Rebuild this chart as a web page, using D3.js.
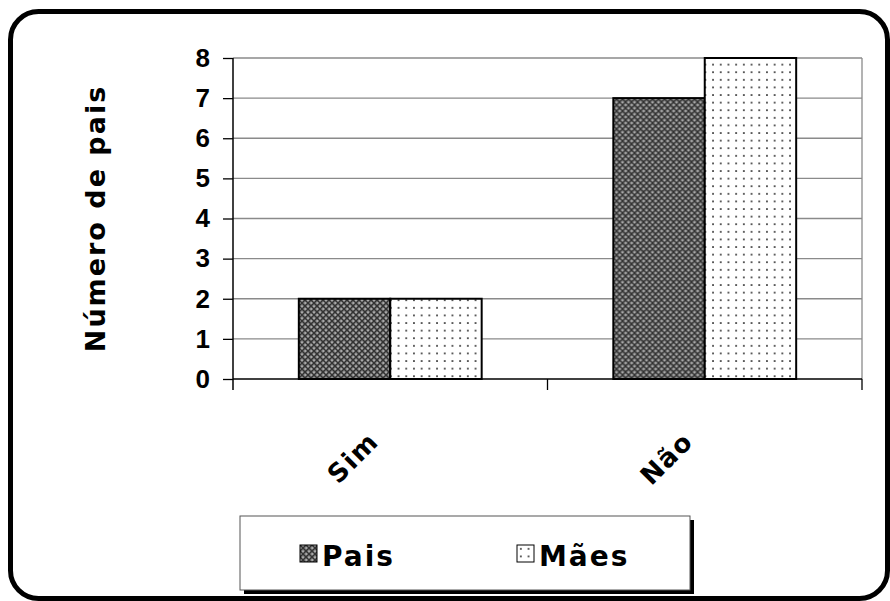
<!DOCTYPE html>
<html>
<head>
<meta charset="utf-8">
<script src="https://cdn.jsdelivr.net/npm/d3@7"></script>
<style>
  html, body { margin: 0; padding: 0; background: #fff; }
  svg { display: block; }
</style>
</head>
<body>
<script>
// Respostas por categoria
const categories = ["Sim", "Não"];
const seriesNames = ["Pais", "Mães"];
const paisValues = [2, 7];
const maesValues = [2, 8];
const yTicks = [0, 1, 2, 3, 4, 5, 6, 7, 8];
const yTitle = "Número de pais";

const W = 890, H = 601;
const plot = { left: 233, top: 58, right: 862, bottom: 379 };
const comic = "'Comic Sans MS', 'DejaVu Sans', sans-serif";

const svg = d3.select("body").append("svg")
  .attr("width", W).attr("height", H);

// Fill patterns
const defs = svg.append("defs");
const pHatch = defs.append("pattern").attr("id", "pat-pais")
  .attr("patternUnits", "userSpaceOnUse").attr("width", 6).attr("height", 6);
pHatch.append("rect").attr("width", 6).attr("height", 6).attr("fill", "#5c5c5c");
pHatch.append("path").attr("d", "M0,0 L6,6 M6,0 L0,6")
  .attr("stroke", "#333").attr("stroke-width", 1);
pHatch.append("rect").attr("x", 2.3).attr("y", -0.2).attr("width", 1.4).attr("height", 1.4).attr("fill", "#c8c8c8");
pHatch.append("rect").attr("x", -0.2).attr("y", 2.3).attr("width", 1.4).attr("height", 1.4).attr("fill", "#c8c8c8");
pHatch.append("rect").attr("x", 5.3).attr("y", 2.3).attr("width", 1.4).attr("height", 1.4).attr("fill", "#c8c8c8");
pHatch.append("rect").attr("x", 2.3).attr("y", 5.3).attr("width", 1.4).attr("height", 1.4).attr("fill", "#c8c8c8");

const pDots = defs.append("pattern").attr("id", "pat-maes")
  .attr("patternUnits", "userSpaceOnUse").attr("width", 7.7).attr("height", 7.6);
pDots.append("rect").attr("width", 7.7).attr("height", 7.6).attr("fill", "#fff");
pDots.append("rect").attr("x", 3).attr("y", 3).attr("width", 1.7).attr("height", 1.7).attr("fill", "#333");

const fills = ["url(#pat-pais)", "url(#pat-maes)"];

// Outer rounded frame
svg.append("rect")
  .attr("x", 10.5).attr("y", 11.5).attr("width", 877).attr("height", 587)
  .attr("rx", 28).attr("ry", 28)
  .attr("fill", "#fff").attr("stroke", "#000").attr("stroke-width", 5);

// Scales
const x0 = d3.scaleBand().domain(categories).range([plot.left, plot.right]).paddingInner(0).paddingOuter(0);
const x1 = d3.scaleBand().domain(seriesNames).range([0, x0.bandwidth()]).paddingOuter(0.72).paddingInner(0);
const y = d3.scaleLinear().domain([0, 8]).range([plot.bottom, plot.top]);

// Gridlines
svg.append("g").selectAll("line").data(yTicks.filter(d => d > 0)).join("line")
  .attr("x1", plot.left).attr("x2", plot.right)
  .attr("y1", d => y(d)).attr("y2", d => y(d))
  .attr("stroke", "#8a8a8a").attr("stroke-width", 1.3);

// Plot area right border
svg.append("line")
  .attr("x1", plot.right).attr("x2", plot.right)
  .attr("y1", plot.top).attr("y2", plot.bottom)
  .attr("stroke", "#8a8a8a").attr("stroke-width", 1.3);

// Bars
const data = categories.map((c, i) => ({ cat: c, vals: [paisValues[i], maesValues[i]] }));
const groups = svg.append("g").selectAll("g").data(data).join("g")
  .attr("transform", d => `translate(${x0(d.cat)},0)`);
groups.selectAll("rect").data(d => d.vals.map((v, j) => ({ s: seriesNames[j], v, j }))).join("rect")
  .attr("x", d => x1(d.s)).attr("width", x1.bandwidth())
  .attr("y", d => y(d.v)).attr("height", d => y(0) - y(d.v))
  .attr("fill", d => fills[d.j])
  .attr("stroke", "#000").attr("stroke-width", 2);

// Y axis
const yAxis = d3.axisLeft(y).tickValues(yTicks).tickSize(10).tickPadding(13)
  .tickFormat(d3.format("d"));
const gy = svg.append("g").attr("transform", `translate(${plot.left},0)`).call(yAxis);
gy.select(".domain").remove();
gy.selectAll(".tick line").attr("stroke", "#000").attr("stroke-width", 1.3);
gy.selectAll(".tick text")
  .attr("font-family", "'Liberation Sans', Arial, sans-serif")
  .attr("font-weight", "bold").attr("font-size", 26).attr("fill", "#000");
svg.append("line")
  .attr("x1", plot.left).attr("x2", plot.left)
  .attr("y1", plot.top).attr("y2", plot.bottom + 11)
  .attr("stroke", "#000").attr("stroke-width", 1.5);

// X axis line and category boundary ticks
svg.append("line")
  .attr("x1", plot.left).attr("x2", plot.right)
  .attr("y1", plot.bottom).attr("y2", plot.bottom)
  .attr("stroke", "#000").attr("stroke-width", 1.5);
const bounds = [plot.left + x0.bandwidth(), plot.right];
svg.append("g").selectAll("line").data(bounds).join("line")
  .attr("x1", d => d).attr("x2", d => d)
  .attr("y1", plot.bottom).attr("y2", plot.bottom + 11)
  .attr("stroke", "#000").attr("stroke-width", 1.3);

// Category labels, rotated
svg.append("g").selectAll("text").data(categories).join("text")
  .attr("transform", d => `translate(${x0(d) + x0.bandwidth() / 2 - 10},${plot.bottom + 64}) rotate(-45)`)
  .attr("text-anchor", "end")
  .attr("font-family", comic).attr("font-weight", "bold").attr("font-size", 26)
  .attr("letter-spacing", 1.5)
  .attr("fill", "#000")
  .text(d => d);

// Y axis title
svg.append("text")
  .attr("transform", `translate(105,${(plot.top + plot.bottom) / 2}) rotate(-90)`)
  .attr("text-anchor", "middle")
  .attr("font-family", comic).attr("font-weight", "bold").attr("font-size", 27)
  .attr("letter-spacing", 2)
  .attr("fill", "#000")
  .text(yTitle);

// Legend with drop shadow
const lg = { x: 240, y: 516, w: 450, h: 74 };
svg.append("rect")
  .attr("x", lg.x + 4).attr("y", lg.y + 4).attr("width", lg.w).attr("height", lg.h)
  .attr("fill", "#000");
svg.append("rect")
  .attr("x", lg.x).attr("y", lg.y).attr("width", lg.w).attr("height", lg.h)
  .attr("fill", "#fff").attr("stroke", "#555").attr("stroke-width", 1);
const legendX = [300, 517];
const items = svg.append("g").selectAll("g").data(seriesNames).join("g")
  .attr("transform", (d, i) => `translate(${legendX[i]},545)`);
items.append("rect")
  .attr("width", 17).attr("height", 17)
  .attr("fill", (d, i) => fills[i]).attr("stroke", "#000").attr("stroke-width", 1);
items.append("text")
  .attr("x", 22).attr("y", 21)
  .attr("font-family", comic).attr("font-weight", "bold").attr("font-size", 28)
  .attr("letter-spacing", 2)
  .attr("fill", "#000")
  .text(d => d);
</script>
</body>
</html>
